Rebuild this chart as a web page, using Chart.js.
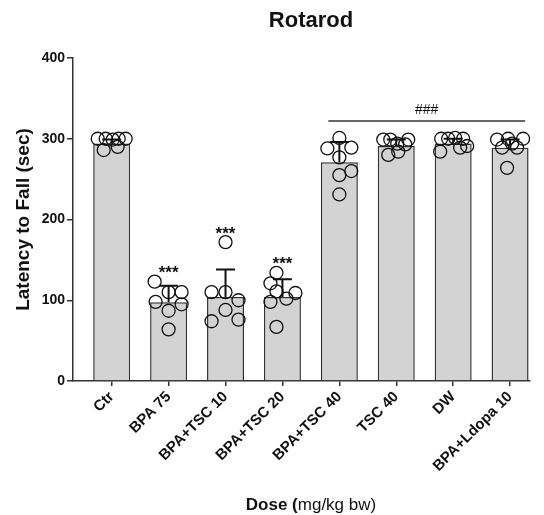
<!doctype html>
<html lang="en">
<head>
    <meta charset="UTF-8">
    <title>Rotarod</title>
    <script src="https://cdn.jsdelivr.net/npm/chart.js"></script>
    <style>
        body { margin: 0; background: #fff; }
        #wrap { width: 544px; height: 515px; }
    </style>
</head>
<body>
    <div id="wrap"><canvas id="rotarod"></canvas></div>
    <script>
        // data
        const groups = ['Ctr', 'BPA 75', 'BPA+TSC 10', 'BPA+TSC 20', 'BPA+TSC 40', 'TSC 40', 'DW', 'BPA+Ldopa 10'];
        const means = [294, 97.5, 104, 104, 271, 291, 294, 289];
        const sds = [5, 20.5, 34, 22, 25, 8, 6, 10];
        const points = [
            [300, 300, 299, 300, 300, 286, 290],
            [123, 110, 110, 98, 95, 87, 64],
            [172, 110, 110, 100, 88, 74, 76],
            [134, 121, 111, 109, 102, 98, 67],
            [301, 288, 289, 277, 255, 260, 231],
            [299, 299, 299, 294, 293, 284, 280],
            [300, 300, 301, 300, 289, 291, 284],
            [299, 300, 300, 289, 289, 294, 264]
        ];
        const stars = ['', '***', '***', '***', '', '', '', ''];
        const hashText = '###';
        const hashFrom = 4, hashTo = 7, hashLevel = 322;
        const yTicks = [0, 100, 200, 300, 400];

        // horizontal scatter of the dots, px within a 57px slot
        const spread = [
            [-14, -6, 1, 7, 14, -8, 6],
            [-14, 0, 13, -13, 13, 0, 0],
            [0, -14, 0, 13, 0, -14, 13],
            [-6, -12, -6, 13, 4, -12, -6],
            [0, -12, 12, 0, 0, 12, 0],
            [-13, -6, 12, 1, 9, 2, -8],
            [-12, -5, 2, 10, 7, 14, -13],
            [-13, -2, 13, -8, 7, 2, -3]
        ];

        const FONT = '"Liberation Sans", Arial, sans-serif';
        const INK = '#111';
        const AXIS = '#333';

        const annotate = {
            id: 'annotate',
            afterDatasetsDraw(chart) {
                const { ctx, scales: { x, y } } = chart;
                ctx.save();
                // SD error bars (upper only)
                ctx.strokeStyle = INK;
                ctx.lineWidth = 2;
                means.forEach((m, i) => {
                    const px = x.getPixelForValue(i);
                    const y0 = y.getPixelForValue(m);
                    const y1 = y.getPixelForValue(m + sds[i]);
                    ctx.beginPath();
                    ctx.moveTo(px, y0);
                    ctx.lineTo(px, y1);
                    ctx.moveTo(px - 9.5, y1);
                    ctx.lineTo(px + 9.5, y1);
                    ctx.stroke();
                });
                // asterisks above the highest dot
                ctx.fillStyle = INK;
                ctx.font = 'bold 17px ' + FONT;
                ctx.textAlign = 'center';
                ctx.textBaseline = 'middle';
                stars.forEach((s, i) => {
                    if (!s) return;
                    const top = Math.max(...points[i], means[i] + sds[i]);
                    ctx.fillText(s, x.getPixelForValue(i), y.getPixelForValue(top) - 8);
                });
                // ### comparison line
                const lx0 = x.getPixelForValue(hashFrom) - 11;
                const lx1 = x.getPixelForValue(hashTo) + 15;
                const ly = y.getPixelForValue(hashLevel);
                ctx.strokeStyle = AXIS;
                ctx.lineWidth = 1.5;
                ctx.beginPath();
                ctx.moveTo(lx0, ly);
                ctx.lineTo(lx1, ly);
                ctx.stroke();
                ctx.font = '14px ' + FONT;
                ctx.fillText(hashText, (lx0 + lx1) / 2, ly - 11);
                ctx.restore();
            },
            afterDraw(chart) {
                const { ctx } = chart;
                ctx.save();
                ctx.fillStyle = INK;
                ctx.textBaseline = 'middle';
                ctx.textAlign = 'center';
                ctx.font = 'bold 22px ' + FONT;
                ctx.fillText('Rotarod', 311, 21);
                // x axis title, mixed weight
                const a = 'Dose (', b = 'mg/kg bw)';
                ctx.font = 'bold 17px ' + FONT;
                const wa = ctx.measureText(a).width;
                ctx.font = '17px ' + FONT;
                const wb = ctx.measureText(b).width;
                const sx = 311 - (wa + wb) / 2;
                ctx.textAlign = 'left';
                ctx.font = 'bold 17px ' + FONT;
                ctx.fillText(a, sx, 505);
                ctx.font = '17px ' + FONT;
                ctx.fillText(b, sx + wa, 505);
                ctx.restore();
            }
        };

        const dots = points.flatMap((vals, i) =>
            vals.map((v, k) => ({ x: i + spread[i][k] / 57, y: v })));

        new Chart(document.getElementById('rotarod'), {
            type: 'bar',
            data: {
                datasets: [{
                    type: 'bar',
                    data: means.map((m, i) => ({ x: i, y: m })),
                    backgroundColor: '#d3d3d3',
                    borderColor: AXIS,
                    borderWidth: 1.5,
                    barPercentage: 0.65,
                    categoryPercentage: 1,
                    order: 2
                }, {
                    type: 'scatter',
                    data: dots,
                    pointRadius: 6.5,
                    pointBorderWidth: 1.3,
                    pointBorderColor: INK,
                    pointBackgroundColor: 'rgba(255,255,255,0)',
                    order: 1
                }]
            },
            options: {
                responsive: true,
                maintainAspectRatio: false,
                animation: false,
                layout: { padding: { top: 58, right: 14, left: 0, bottom: 0 } },
                plugins: { legend: { display: false }, tooltip: { enabled: false }, title: { display: false } },
                scales: {
                    x: {
                        type: 'linear',
                        offset: false,
                        min: -0.68,
                        max: 7.35,
                        afterFit: s => { s.height = 134; },
                        afterBuildTicks: s => { s.ticks = groups.map((g, i) => ({ value: i })); },
                        grid: { offset: false, drawOnChartArea: false, drawTicks: true, tickLength: 5, color: AXIS, lineWidth: 1.5 },
                        border: { display: true, color: AXIS, width: 1.5 },
                        ticks: {
                            autoSkip: false,
                            minRotation: 45,
                            maxRotation: 45,
                            padding: 2,
                            color: INK,
                            font: { family: FONT, size: 15, weight: 'bold' },
                            callback: v => groups[v]
                        }
                    },
                    y: {
                        min: 0,
                        max: 400,
                        afterFit: s => { s.width = 73; },
                        afterBuildTicks: s => { s.ticks = yTicks.map(v => ({ value: v })); },
                        grid: { drawOnChartArea: false, drawTicks: true, tickLength: 6, color: AXIS, lineWidth: 1.5 },
                        border: { display: true, color: AXIS, width: 1.5 },
                        ticks: {
                            padding: 2,
                            color: INK,
                            font: { family: FONT, size: 14, weight: 'bold' }
                        },
                        title: {
                            display: true,
                            text: 'Latency to Fall (sec)',
                            color: INK,
                            font: { family: FONT, size: 19, weight: 'bold' },
                            padding: { top: 12, bottom: 0 }
                        }
                    }
                }
            },
            plugins: [annotate]
        });
    </script>
</body>
</html>
